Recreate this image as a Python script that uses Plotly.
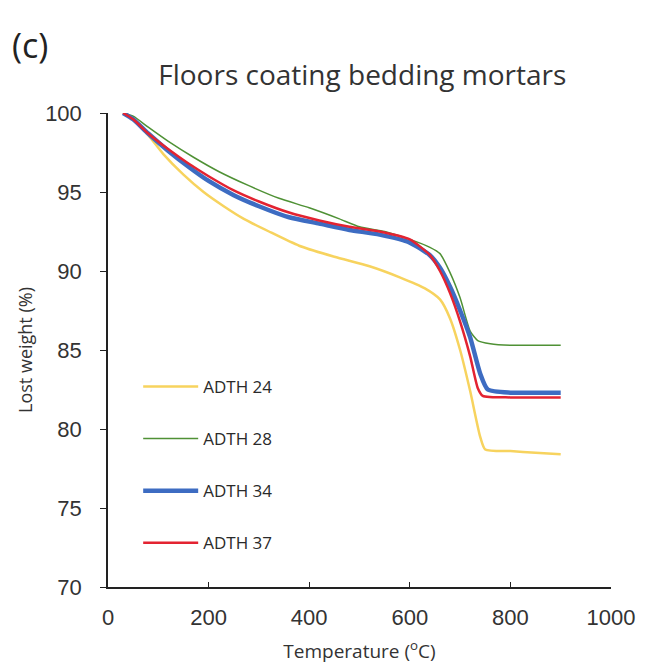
import plotly.graph_objects as go

# ---- data ----
t_24 = [30, 50, 80, 110, 150, 190, 230, 270, 320, 380, 450, 520, 580, 630, 660, 680, 700, 720, 740, 750, 800, 850, 900]
w_24 = [100, 99.6, 98.6, 97.4, 96.1, 95.0, 94.1, 93.3, 92.5, 91.6, 90.9, 90.3, 89.6, 88.9, 88.2, 87.0, 85.0, 82.4, 79.5, 78.7, 78.6, 78.5, 78.4]

t_28 = [30, 50, 80, 120, 170, 220, 280, 340, 400, 460, 500, 550, 600, 640, 660, 680, 700, 720, 735, 760, 800, 850, 900]
w_28 = [100, 99.8, 99.1, 98.2, 97.2, 96.3, 95.4, 94.6, 94.0, 93.3, 92.8, 92.5, 92.0, 91.5, 91.1, 89.9, 88.3, 86.2, 85.6, 85.4, 85.3, 85.3, 85.3]

t_34 = [30, 50, 80, 120, 160, 200, 250, 300, 360, 420, 480, 540, 600, 640, 660, 680, 700, 720, 740, 755, 800, 850, 900]
w_34 = [100, 99.6, 98.7, 97.6, 96.6, 95.7, 94.8, 94.1, 93.4, 93.0, 92.6, 92.3, 91.8, 91.0, 90.2, 89.0, 87.5, 85.8, 83.5, 82.5, 82.3, 82.3, 82.3]

t_37 = [30, 50, 80, 120, 160, 200, 250, 300, 360, 420, 480, 540, 600, 640, 660, 680, 700, 720, 735, 745, 800, 850, 900]
w_37 = [100, 99.6, 98.7, 97.7, 96.8, 96.0, 95.1, 94.4, 93.7, 93.2, 92.8, 92.5, 92.0, 91.0, 90.0, 88.6, 86.8, 84.6, 82.6, 82.1, 82.0, 82.0, 82.0]

names = ["ADTH 24", "ADTH 28", "ADTH 34", "ADTH 37"]
x_ticks = [0, 200, 400, 600, 800, 1000]
y_ticks = [70, 75, 80, 85, 90, 95, 100]

series = [
    (t_24, w_24, names[0], "#F7D35E", 2.5),
    (t_28, w_28, names[1], "#4F9135", 1.5),
    (t_34, w_34, names[2], "#3D6CC2", 4.5),
    (t_37, w_37, names[3], "#E32331", 2.5),
]

fig = go.Figure()
for i, (t, w, n, c, lw) in enumerate(series):
    fig.add_trace(go.Scatter(x=t, y=w, name=n, mode="lines",
                             line=dict(color=c, width=lw, shape="spline", smoothing=0.6),
                             legendgroup=f"g{i}"))

fig.update_layout(
    width=647, height=672,
    margin=dict(l=108, r=32, t=113, b=85),
    paper_bgcolor="white", plot_bgcolor="white",
    showlegend=True,
    legend=dict(x=0.06, y=0.46, xanchor="left", yanchor="top",
                bgcolor="rgba(0,0,0,0)", tracegroupgap=27, itemwidth=55,
                font=dict(family="Open Sans", size=17, color="#2a2a2a"),
                traceorder="grouped"),
    xaxis=dict(range=[0, 1000], tickvals=x_ticks, showgrid=False, zeroline=False,
               showline=True, linecolor="#222222", linewidth=1.5,
               ticks="inside", ticklen=5, tickcolor="#222222", ticklabelstandoff=10,
               tickfont=dict(family="Liberation Sans", size=22, color="#333333"),
               title=dict(text="Temperature (<sup>o</sup>C)", standoff=16,
                          font=dict(family="Open Sans", size=19, color="#333333"))),
    yaxis=dict(range=[70, 100], tickvals=y_ticks, showgrid=False, zeroline=False,
               showline=True, linecolor="#222222", linewidth=1.5,
               ticks="outside", ticklen=6, tickcolor="#222222", ticklabelstandoff=14,
               tickfont=dict(family="Liberation Sans", size=22, color="#333333"),
               title=dict(text="Lost weight (%)", standoff=8,
                          font=dict(family="Open Sans", size=18, color="#333333"))),
    title=dict(text="Floors coating bedding mortars", x=0.56, xanchor="center",
               y=0.888, yanchor="middle",
               font=dict(family="Open Sans", size=28, color="#333333")),
)

fig.add_annotation(text="(c)", xref="paper", yref="paper", x=-0.195, y=1.143,
                   xanchor="left", yanchor="middle", showarrow=False,
                   font=dict(family="Open Sans", size=34, color="#222222"))

fig.write_html("out.html")
